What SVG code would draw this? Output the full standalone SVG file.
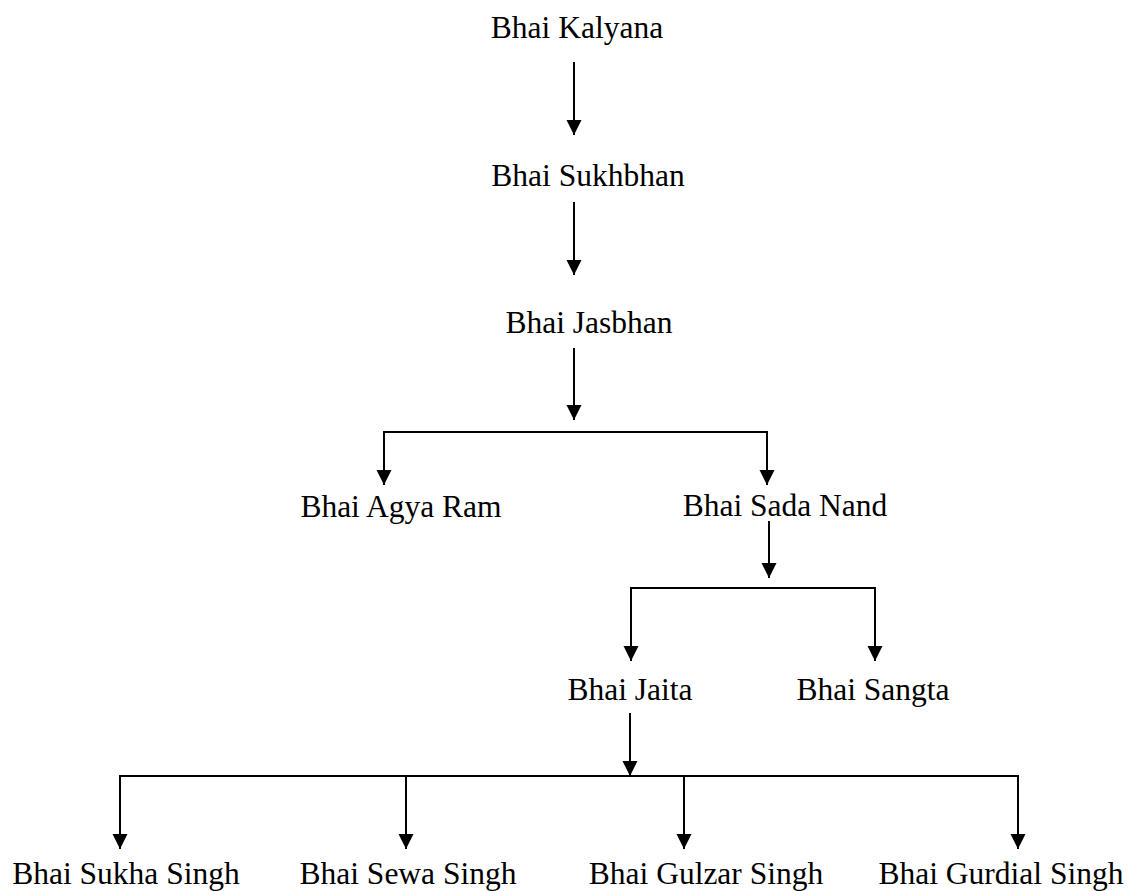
<svg xmlns="http://www.w3.org/2000/svg" width="1131" height="891" viewBox="0 0 1131 891">
<style>
text { font-family: "Liberation Serif", "Times New Roman", serif; font-size: 31.5px; fill: #000; text-anchor: middle; }
.c { stroke: #000; stroke-width: 2; fill: none; }
.a { marker-end: url(#ah); }
</style>
<defs>
<marker id="ah" markerUnits="userSpaceOnUse" markerWidth="16" markerHeight="16" refX="15" refY="7.5" orient="auto">
<path d="M0,0 L15,7.5 L0,15 Z" fill="#000"/>
</marker>
</defs>
<rect width="1131" height="891" fill="#fff"/>
<g id="connectors">
<line class="c a" x1="574" y1="62" x2="574" y2="135"/>
<line class="c a" x1="574" y1="202" x2="574" y2="275"/>
<line class="c a" x1="574" y1="348" x2="574" y2="420"/>
<line class="c" x1="383" y1="432" x2="768" y2="432"/>
<line class="c a" x1="384" y1="431" x2="384" y2="485"/>
<line class="c a" x1="767" y1="431" x2="767" y2="485"/>
<line class="c a" x1="769" y1="521" x2="769" y2="578"/>
<line class="c" x1="630" y1="588" x2="876" y2="588"/>
<line class="c a" x1="631" y1="587" x2="631" y2="661"/>
<line class="c a" x1="875" y1="587" x2="875" y2="661"/>
<line class="c a" x1="630" y1="713" x2="630" y2="776"/>
<line class="c" x1="119" y1="776" x2="1019" y2="776"/>
<line class="c a" x1="120" y1="775" x2="120" y2="849"/>
<line class="c a" x1="406" y1="775" x2="406" y2="849"/>
<line class="c a" x1="684" y1="775" x2="684" y2="849"/>
<line class="c a" x1="1018" y1="775" x2="1018" y2="849"/>
</g>
<g id="n-kalyana"><text x="577" y="38">Bhai Kalyana</text></g>
<g id="n-sukhbhan"><text x="588" y="186">Bhai Sukhbhan</text></g>
<g id="n-jasbhan"><text x="589" y="333">Bhai Jasbhan</text></g>
<g id="n-agyaram"><text x="401" y="517">Bhai Agya Ram</text></g>
<g id="n-sadanand"><text x="785" y="516">Bhai Sada Nand</text></g>
<g id="n-jaita"><text x="630" y="700">Bhai Jaita</text></g>
<g id="n-sangta"><text x="873" y="700">Bhai Sangta</text></g>
<g id="n-sukhasingh"><text x="126" y="884">Bhai Sukha Singh</text></g>
<g id="n-sewasingh"><text x="408" y="884">Bhai Sewa Singh</text></g>
<g id="n-gulzarsingh"><text x="706" y="884">Bhai Gulzar Singh</text></g>
<g id="n-gurdialsingh"><text x="1001" y="884">Bhai Gurdial Singh</text></g>
</svg>
